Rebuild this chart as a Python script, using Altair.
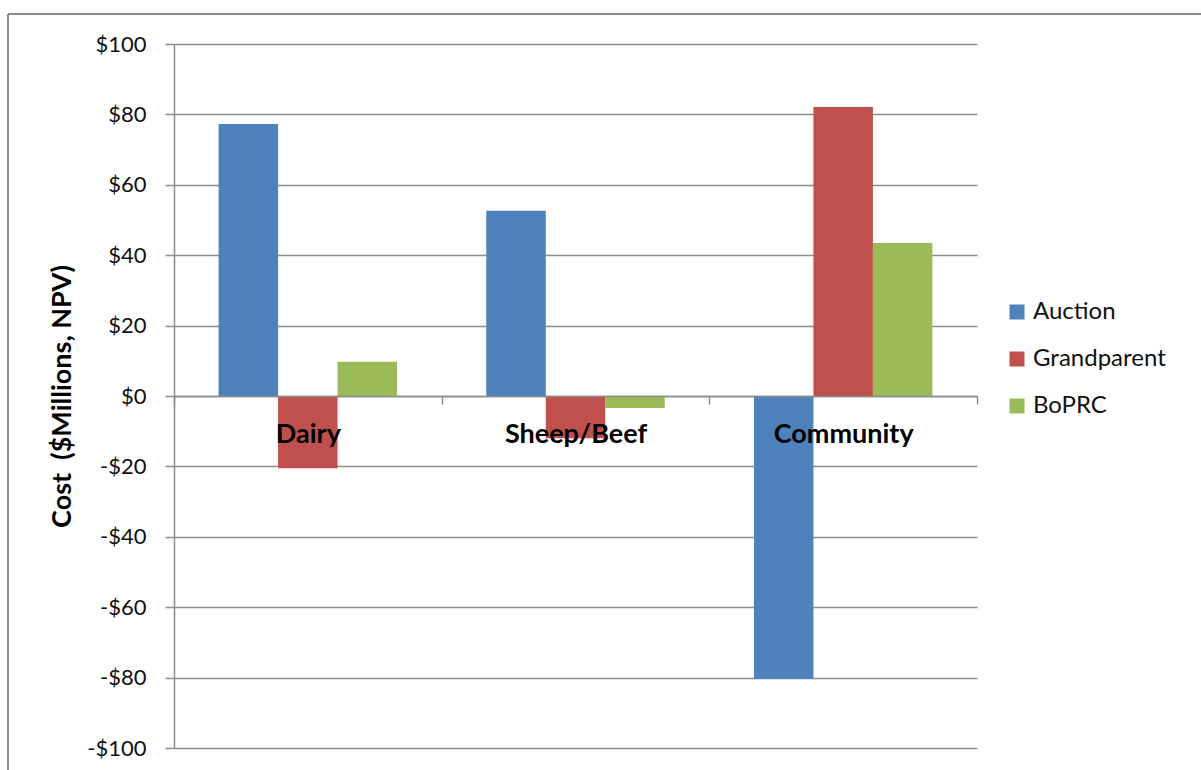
import altair as alt
import pandas as pd

# Costs by sector under each allocation scheme ($ millions, NPV)
sectors = ["Dairy", "Sheep/Beef", "Community"]
schemes = ["Auction", "Grandparent", "BoPRC"]
auction = [77.3, 52.6, -80.4]
grandparent = [-20.5, -12.0, 82.1]
boprc = [9.7, -3.4, 43.5]
scheme_colors = ["#4F81BD", "#C0504D", "#9BBB59"]
y_ticks = [-100, -80, -60, -40, -20, 0, 20, 40, 60, 80, 100]

rows = []
for i, sector in enumerate(sectors):
    for scheme, values in zip(schemes, [auction, grandparent, boprc]):
        rows.append({"sector": sector, "scheme": scheme, "cost": values[i]})
df = pd.DataFrame(rows)

FONT = "Lato"
LINE = "#8c8c8c"
W, H = 803, 704

bars = alt.Chart(df).mark_bar().encode(
    x=alt.X(
        "sector:N",
        sort=sectors,
        scale=alt.Scale(paddingInner=0, paddingOuter=0),
        axis=alt.Axis(
            title=None,
            orient="bottom",
            offset=-H / 2,
            labelAngle=0,
            labelFont=FONT,
            labelFontSize=27,
            labelFontWeight="bold",
            labelColor="black",
            labelBaseline="middle",
            labelPadding=30,
            tickBand="extent",
            tickSize=8,
            tickColor=LINE,
            tickWidth=1.5,
            domainColor=LINE,
            domainWidth=1.5,
            grid=False,
            zindex=1,
        ),
    ),
    xOffset=alt.XOffset(
        "scheme:N",
        sort=schemes,
        scale=alt.Scale(domain=schemes, paddingInner=0, paddingOuter=0.75),
    ),
    y=alt.Y(
        "cost:Q",
        scale=alt.Scale(domain=[-100, 100], nice=False),
        axis=alt.Axis(
            values=y_ticks,
            labelExpr="datum.value < 0 ? '-$' + abs(datum.value) : '$' + datum.value",
            labelFont=FONT,
            labelFontSize=22,
            labelColor="#111111",
            labelPadding=19,
            tickSize=9,
            tickColor=LINE,
            tickWidth=1.5,
            domainColor=LINE,
            domainWidth=1.5,
            gridColor=LINE,
            gridWidth=1.5,
            title="Cost \u00a0($Millions, NPV)",
            titleFont=FONT,
            titleFontSize=27,
            titleFontWeight="bold",
            titleColor="black",
            titleAngle=-90,
            titleX=-112,
            titleY=H / 2,
            titleAlign="center",
            titleBaseline="middle",
        ),
    ),
    color=alt.Color(
        "scheme:N",
        sort=schemes,
        scale=alt.Scale(domain=schemes, range=scheme_colors),
        legend=alt.Legend(
            title=None,
            orient="none",
            legendX=831,
            legendY=256,
            padding=0,
            symbolType="square",
            symbolSize=225,
            symbolStrokeWidth=0,
            labelFont=FONT,
            labelFontSize=24,
            labelColor="#111111",
            labelOffset=4,
            rowPadding=23,
        ),
    ),
)

# outer chart frame
frame_src = pd.DataFrame({"k": [0]})
frame_top = alt.Chart(frame_src).mark_rule(color=LINE, strokeWidth=2).encode(
    x=alt.value(-166), x2=alt.value(W + 240), y=alt.value(-30)
)
frame_left = alt.Chart(frame_src).mark_rule(color=LINE, strokeWidth=2).encode(
    x=alt.value(-166), y=alt.value(-30), y2=alt.value(H + 40)
)

chart = (
    alt.layer(bars, frame_top, frame_left)
    .properties(
        width=W,
        height=H,
        autosize=alt.AutoSizeParams(type="none"),
        padding={"left": 174, "top": 44, "right": 224, "bottom": 22},
    )
    .configure_view(strokeWidth=0)
)

chart.save("out.html", embed_options={"renderer": "svg", "actions": False})
